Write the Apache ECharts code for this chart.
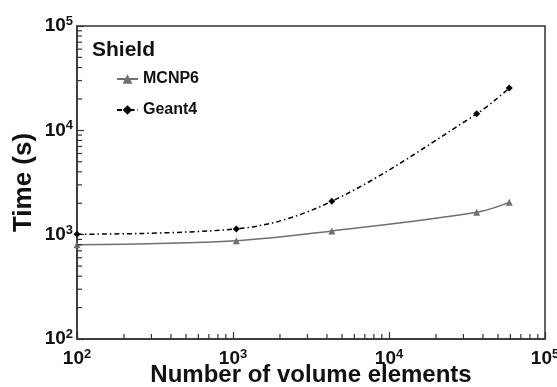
<!DOCTYPE html>
<html>
<head>
<meta charset="utf-8">
<script src="https://cdn.jsdelivr.net/npm/echarts@6/dist/echarts.min.js"></script>
<style>
  html, body { margin: 0; padding: 0; background: #fff; }
  #chart { width: 557px; height: 387px; }
</style>
</head>
<body>
<div id="chart"></div>
<script>
// Run time vs. mesh size for the shield problem
const volumeElements = [100, 1050, 4300, 36500, 59000];
const mcnp6Time = [800, 875, 1085, 1640, 2040];
const geant4Time = [1010, 1135, 2090, 14400, 25400];

const seriesNames = ['MCNP6', 'Geant4'];
const xRange = [100, 100000];
const yRange = [100, 100000];
// intermediate log ticks (2..9 per decade)
const minorMultipliers = [2, 3, 4, 5, 6, 7, 8, 9];
const minorDecades = [100, 1000, 10000];

const FONT = '"Liberation Sans", Arial, sans-serif';
const AXIS_COLOR = '#333';

const minorX = [];
const minorY = [];
minorDecades.forEach(d => minorMultipliers.forEach(m => {
  minorX.push([d * m, yRange[0]]);
  minorY.push([xRange[0], d * m]);
}));

function powerLabel(v) {
  const e = Math.round(Math.log10(v));
  return '10{sup|' + e + '}';
}
const labelRich = {
  sup: { fontSize: 13, fontWeight: 'bold', fontFamily: FONT, color: '#111', verticalAlign: 'top', lineHeight: 12 }
};

const chart = echarts.init(document.getElementById('chart'), null, { renderer: 'canvas' });

function minorTickSeries(data, vertical) {
  return {
    type: 'custom',
    silent: true,
    clip: false,
    data: data,
    z: 5,
    renderItem: function (params, api) {
      const p = api.coord([api.value(0), api.value(1)]);
      const len = 5;
      const shape = vertical
        ? { x1: p[0], y1: p[1], x2: p[0], y2: p[1] - len }
        : { x1: p[0], y1: p[1], x2: p[0] + len, y2: p[1] };
      return { type: 'line', shape: shape, style: { stroke: AXIS_COLOR, lineWidth: 1.2 } };
    }
  };
}

chart.setOption({
  animation: false,
  backgroundColor: '#fff',
  title: {
    text: 'Shield',
    left: 92,
    top: 40,
    padding: 0,
    textStyle: { fontFamily: FONT, fontWeight: 'bold', fontSize: 21, color: '#111' }
  },
  legend: {
    data: seriesNames,
    orient: 'vertical',
    left: 116,
    top: 71,
    padding: 0,
    itemWidth: 21,
    itemHeight: 12,
    itemGap: 15,
    textStyle: { fontFamily: FONT, fontWeight: 'bold', fontSize: 16, color: '#111' }
  },
  grid: {
    left: 77, right: 12, top: 26, bottom: 48,
    containLabel: false,
    outerBoundsMode: 'none',
    show: true,
    borderColor: AXIS_COLOR,
    borderWidth: 1.5
  },
  xAxis: {
    type: 'log',
    logBase: 10,
    min: xRange[0],
    max: xRange[1],
    name: 'Number of volume elements',
    nameLocation: 'middle',
    nameMoveOverlap: false,
    nameGap: 24,
    nameTextStyle: { fontFamily: FONT, fontWeight: 'bold', fontSize: 24, color: '#111' },
    axisLine: { lineStyle: { color: AXIS_COLOR, width: 1.5 } },
    axisTick: { inside: true, length: 7, lineStyle: { color: AXIS_COLOR, width: 1.2 } },
    splitLine: { show: false },
    axisLabel: {
      formatter: powerLabel,
      margin: 9,
      fontFamily: FONT, fontWeight: 'bold', fontSize: 19, color: '#111', lineHeight: 22,
      rich: labelRich
    }
  },
  yAxis: {
    type: 'log',
    logBase: 10,
    min: yRange[0],
    max: yRange[1],
    name: 'Time (s)',
    nameLocation: 'middle',
    nameMoveOverlap: false,
    nameGap: 40,
    nameTextStyle: { fontFamily: FONT, fontWeight: 'bold', fontSize: 26, color: '#111' },
    axisLine: { lineStyle: { color: AXIS_COLOR, width: 1.5 } },
    axisTick: { inside: true, length: 7, lineStyle: { color: AXIS_COLOR, width: 1.2 } },
    splitLine: { show: false },
    axisLabel: {
      formatter: powerLabel,
      margin: 4,
      fontFamily: FONT, fontWeight: 'bold', fontSize: 19, color: '#111', lineHeight: 22,
      rich: labelRich
    }
  },
  series: [
    {
      name: 'MCNP6',
      type: 'line',
      smooth: 0.35,
      data: volumeElements.map((x, i) => [x, mcnp6Time[i]]),
      symbol: 'triangle',
      symbolSize: 7,
      itemStyle: { color: '#6f6f6f' },
      lineStyle: { color: '#6f6f6f', width: 1.5 },
      z: 3
    },
    {
      name: 'Geant4',
      type: 'line',
      smooth: 0.35,
      data: volumeElements.map((x, i) => [x, geant4Time[i]]),
      symbol: 'diamond',
      symbolSize: 7,
      itemStyle: { color: '#000' },
      lineStyle: { color: '#000', width: 1.5, type: [5, 3, 1.5, 3] },
      z: 4
    },
    minorTickSeries(minorX, true),
    minorTickSeries(minorY, false)
  ]
});
</script>
</body>
</html>
